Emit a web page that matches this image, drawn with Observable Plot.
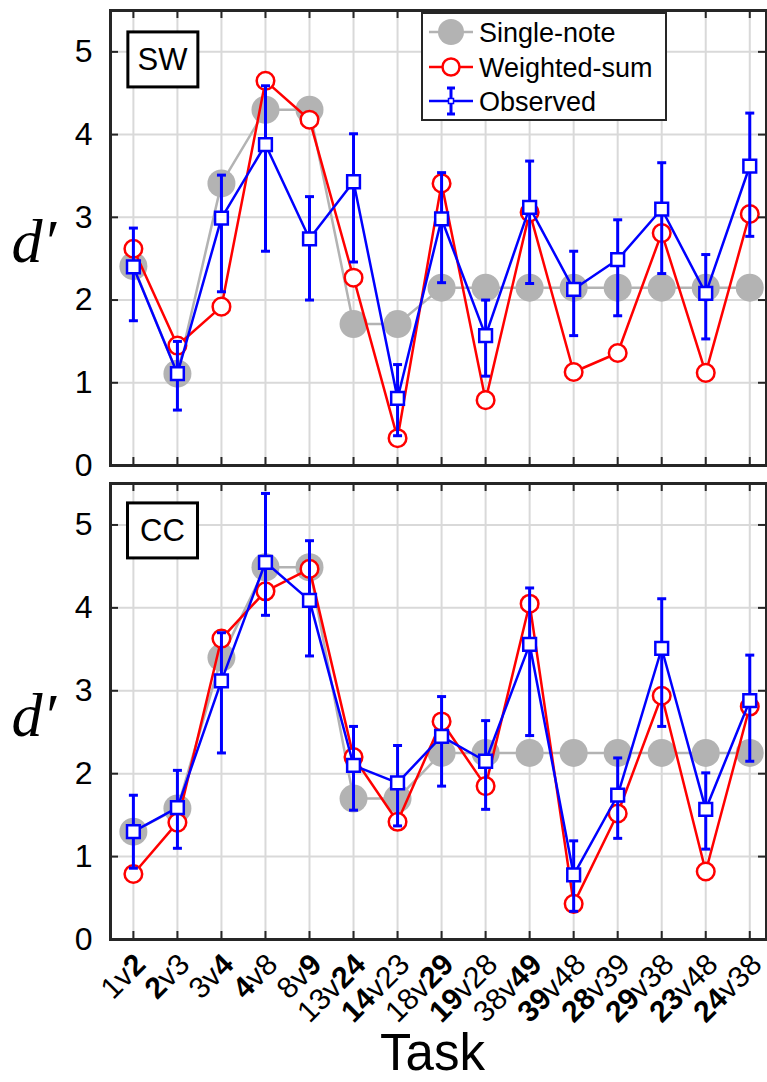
<!DOCTYPE html>
<html><head><meta charset="utf-8">
<script src="https://cdn.jsdelivr.net/npm/d3@7"></script>
<script src="https://cdn.jsdelivr.net/npm/@observablehq/plot@0.6"></script>
<style>
body{margin:0;background:#fff;}
#wrap{position:relative;width:767px;height:1082px;font-family:"Liberation Sans",Arial,Helvetica,sans-serif;}
#wrap > svg{display:block}
</style></head><body><div id="wrap"></div>
<script>
// ---- data ----
const taskA = ["1","2","3","4","8","13","14","18","19","38","39","28","29","23","24"];
const taskB = ["2","3","4","8","9","24","23","29","28","49","48","39","38","48","38"];
const boldSide = ["b","a","b","a","b","b","a","b","a","b","a","a","a","a","a"];
const yTicks = [0,1,2,3,4,5];
const legendItems = ["Single-note","Weighted-sum","Observed"];

const swSingle   = [2.41,1.11,3.41,4.30,4.30,1.71,1.71,2.15,2.15,2.15,2.15,2.15,2.15,2.15,2.15];
const swWeighted = [2.62,1.45,1.92,4.65,4.18,2.27,0.33,3.41,0.79,3.06,1.13,1.36,2.81,1.12,3.04];
const swObserved = [2.40,1.11,2.99,3.88,2.74,3.43,0.81,2.98,1.57,3.12,2.13,2.49,3.10,2.08,3.62];
const swLow      = [1.75,0.67,2.10,2.59,2.00,2.46,0.36,2.21,1.08,2.20,1.57,1.81,2.32,1.53,2.77];
const swHigh     = [2.87,1.50,3.51,4.59,3.25,4.01,1.22,3.54,2.00,3.68,2.59,2.97,3.66,2.55,4.26];

const ccSingle   = [1.30,1.58,3.40,4.49,4.49,1.70,1.70,2.25,2.25,2.25,2.25,2.25,2.25,2.25,2.25];
const ccWeighted = [0.79,1.41,3.63,4.20,4.47,2.20,1.42,2.63,1.85,4.05,0.43,1.52,2.94,0.82,2.81];
const ccObserved = [1.30,1.59,3.12,4.55,4.09,2.10,1.89,2.45,2.15,3.56,0.78,1.74,3.51,1.57,2.88];
const ccLow      = [0.86,1.10,2.25,3.91,3.42,1.56,1.37,1.85,1.57,2.46,0.34,1.22,2.57,1.09,2.15];
const ccHigh     = [1.74,2.04,3.70,5.38,4.81,2.57,2.34,2.93,2.64,4.24,1.19,2.19,4.11,2.01,3.43];

// ---- style ----
const GRAY = "#b3b3b3", RED = "#ff0000", BLUE = "#0000ff", INK = "#262626", GRID = "#d9d9d9";
const FONT = "Liberation Sans, Arial, Helvetica, sans-serif";
const W = 767, ML = 110, MR = 1;
const FW = W - ML - MR;
const idx = d3.range(1, 16);
const tickLabel = i => taskA[i-1] + "v" + taskB[i-1];
const capSymbol = {draw(ctx){ ctx.moveTo(-4.5,0); ctx.lineTo(4.5,0); }};

const wrap = document.getElementById("wrap");

function panel({label, single, weighted, observed, low, high, height, marginTop, marginBottom, labelDy, bottom}) {
  const FH = height - marginTop - marginBottom;
  const rows = idx.map((x, i) => ({x, s: single[i], w: weighted[i], o: observed[i], lo: low[i], hi: high[i]}));
  const marks = [
    Plot.gridX(idx, {stroke: GRID, strokeOpacity: 1, strokeWidth: 2}),
    Plot.gridY(yTicks, {stroke: GRID, strokeOpacity: 1, strokeWidth: 2}),
    Plot.line(rows, {x: "x", y: "s", stroke: GRAY, strokeWidth: 2.5}),
    Plot.dot(rows, {x: "x", y: "s", r: 14, fill: GRAY}),
    Plot.line(rows, {x: "x", y: "w", stroke: RED, strokeWidth: 2.5}),
    Plot.dot(rows, {x: "x", y: "w", r: 8.8, fill: "white", stroke: RED, strokeWidth: 2.5}),
    Plot.ruleX(rows, {x: "x", y1: "lo", y2: "hi", stroke: BLUE, strokeWidth: 3}),
    Plot.dot(rows, {x: "x", y: "lo", symbol: capSymbol, stroke: BLUE, strokeWidth: 3}),
    Plot.dot(rows, {x: "x", y: "hi", symbol: capSymbol, stroke: BLUE, strokeWidth: 3}),
    Plot.line(rows, {x: "x", y: "o", stroke: BLUE, strokeWidth: 2.5}),
    Plot.dot(rows, {x: "x", y: "o", symbol: "square", r: 7.2, fill: "white", stroke: BLUE, strokeWidth: 2.5}),
    Plot.frame({stroke: INK, strokeWidth: 3}),
    Plot.tickY(yTicks, {y: d => d, insetRight: FW - 8, stroke: INK, strokeWidth: 2}),
    Plot.tickY(yTicks, {y: d => d, insetLeft: FW - 8, stroke: INK, strokeWidth: 2}),
    Plot.tickX(idx, {x: d => d, insetBottom: FH - 8, stroke: INK, strokeWidth: 2}),
    Plot.tickX(idx, {x: d => d, insetTop: FH - 8, stroke: INK, strokeWidth: 2}),
    Plot.axisY(yTicks, {anchor: "left", tickSize: 0, tickPadding: 18, fontSize: 32, label: null, fill: "black",
      tickFormat: d => String(d)}),
    Plot.text(["d\u2032"], {frameAnchor: "left", textAnchor: "start", lineAnchor: "bottom", dx: -99, dy: 24,
      fontSize: 62, fontStyle: "italic", fontFamily: "Liberation Serif, Times New Roman, serif", fill: "black"}),
    Plot.text([label], {frameAnchor: "top-left", textAnchor: "middle", lineAnchor: "middle", dx: 52, dy: labelDy,
      fontSize: 31, fill: "black"})
  ];
  if (bottom) {
    marks.push(
      Plot.axisX(idx, {anchor: "bottom", tickSize: 0, tickPadding: 20, tickRotate: -45, tickFormat: tickLabel,
        fontSize: 30, label: null, fill: "black", dx: 7}),
      Plot.text(["Task"], {frameAnchor: "bottom", lineAnchor: "bottom", dx: -6, dy: 130, fontSize: 51, fill: "black"})
    );
  }
  const svg = Plot.plot({
    width: W, height, marginLeft: ML, marginRight: MR, marginTop, marginBottom,
    style: {fontFamily: FONT, background: "white", color: "black", overflow: "visible"},
    x: {type: "linear", domain: [0.48, 15.38], axis: null},
    y: {domain: [0, 5.5], axis: null},
    marks
  });
  wrap.appendChild(svg);
  // box around panel label
  const txt = Array.from(svg.querySelectorAll("text")).find(t => t.textContent === label);
  if (txt) {
    const g = txt.parentNode;
    const b = g.getBBox();
    const cx = b.x + b.width / 2, cy = b.y + b.height / 2;
    const r = document.createElementNS("http://www.w3.org/2000/svg", "rect");
    r.setAttribute("x", cx - 35); r.setAttribute("y", cy - 27.5);
    r.setAttribute("width", 70); r.setAttribute("height", 55);
    r.setAttribute("fill", "white"); r.setAttribute("stroke", "black"); r.setAttribute("stroke-width", 3);
    g.insertBefore(r, g.firstChild);
  }
  // bold parts in tick labels
  if (bottom) {
    d3.select(svg).selectAll('g[aria-label="x-axis tick label"] text').each(function() {
      const t = this.textContent;
      const k = idx.findIndex(i => tickLabel(i) === t);
      if (k < 0) return;
      const el = d3.select(this);
      el.text(null);
      el.append("tspan").attr("font-weight", boldSide[k] === "a" ? "bold" : null).text(taskA[k]);
      el.append("tspan").text("v");
      el.append("tspan").attr("font-weight", boldSide[k] === "b" ? "bold" : null).text(taskB[k]);
    });
  }
  return svg;
}

panel({label: "SW", single: swSingle, weighted: swWeighted, observed: swObserved, low: swLow, high: swHigh,
  height: 473, marginTop: 10, marginBottom: 8, labelDy: 49.5, bottom: false});
panel({label: "CC", single: ccSingle, weighted: ccWeighted, observed: ccObserved, low: ccLow, high: ccHigh,
  height: 609, marginTop: 10, marginBottom: 143, labelDy: 47.5, bottom: true});

// ---- legend (overlay on top panel) ----
const lg = d3.select(wrap).append("svg")
  .attr("width", 246).attr("height", 110)
  .style("position", "absolute").style("left", "421px").style("top", "12px");
lg.append("rect").attr("x", 1).attr("y", 1).attr("width", 244).attr("height", 107)
  .attr("fill", "white").attr("stroke", INK).attr("stroke-width", 2);
const rowY = [20, 55, 89];
legendItems.forEach((name, i) => {
  const y = rowY[i];
  const color = [GRAY, RED, BLUE][i];
  const g = lg.append("g");
  g.append("line").attr("x1", 8).attr("x2", 52).attr("y1", y).attr("y2", y).attr("stroke", color).attr("stroke-width", 2.5);
  if (i === 0) g.append("circle").attr("cx", 30).attr("cy", y).attr("r", 13).attr("fill", GRAY);
  if (i === 1) g.append("circle").attr("cx", 30).attr("cy", y).attr("r", 8.5).attr("fill", "white").attr("stroke", RED).attr("stroke-width", 2.5);
  if (i === 2) {
    g.append("line").attr("x1", 30).attr("x2", 30).attr("y1", y - 13).attr("y2", y + 13).attr("stroke", BLUE).attr("stroke-width", 3);
    g.append("line").attr("x1", 26).attr("x2", 34).attr("y1", y - 13).attr("y2", y - 13).attr("stroke", BLUE).attr("stroke-width", 3);
    g.append("line").attr("x1", 26).attr("x2", 34).attr("y1", y + 13).attr("y2", y + 13).attr("stroke", BLUE).attr("stroke-width", 3);
    g.append("rect").attr("x", 27.5).attr("y", y - 2.5).attr("width", 5).attr("height", 5).attr("fill", "white").attr("stroke", BLUE).attr("stroke-width", 1.5);
  }
  g.append("text").attr("x", 58).attr("y", y).attr("dy", "0.36em")
    .attr("font-family", FONT).attr("font-size", 27).attr("fill", "black").text(name);
});
</script></body></html>
